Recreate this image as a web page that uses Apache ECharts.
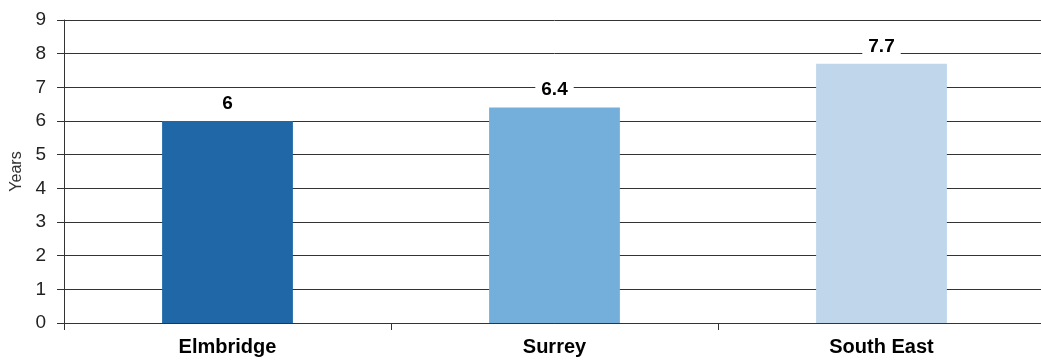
<!DOCTYPE html>
<html><head><meta charset="utf-8">
<script src="https://cdn.jsdelivr.net/npm/echarts@6/dist/echarts.min.js"></script>
<style>html,body{margin:0;padding:0;background:#fff;overflow:hidden}#c{width:1045px;height:360px}</style>
</head><body><div id="c"></div>
<script>
const categories = ['Elmbridge', 'Surrey', 'South East'];
const values = [6, 6.4, 7.7];
const barColors = ['#1f67a6', '#74afdb', '#bfd6eb'];
const yTicks = [0, 1, 2, 3, 4, 5, 6, 7, 8, 9];

const FONT = 'Liberation Sans, Arial, sans-serif';
const chart = echarts.init(document.getElementById('c'), null, {renderer: 'canvas'});
chart.setOption({
  animation: false,
  grid: {left: 64, right: 0, top: 20, bottom: 37, containLabel: false},
  xAxis: {
    type: 'category', data: categories,
    axisLine: {lineStyle: {color: '#333', width: 1}},
    axisTick: {show: true, length: 7, alignWithLabel: false, lineStyle: {color: '#333'}},
    axisLabel: {fontFamily: FONT, fontSize: 20, fontWeight: 'bold', color: '#000', margin: 14}
  },
  yAxis: {
    type: 'value', min: yTicks[0], max: yTicks[yTicks.length - 1], interval: 1,
    name: 'Years', nameLocation: 'middle', nameGap: 37, nameRotate: 90,
    nameTextStyle: {fontFamily: FONT, fontSize: 16, color: '#333'},
    axisLine: {show: true, lineStyle: {color: '#333', width: 1}},
    axisTick: {show: true, length: 7, lineStyle: {color: '#333'}},
    axisLabel: {fontFamily: FONT, fontSize: 19, color: '#222', margin: 18},
    splitLine: {show: true, lineStyle: {color: '#333', width: 1}}
  },
  series: [{
    type: 'bar', barWidth: '40%',
    data: values.map((v, i) => ({value: v, itemStyle: {color: barColors[i]}})),
    label: {
      show: true, position: 'top', distance: 5,
      fontFamily: FONT, fontSize: 19, fontWeight: 'bold', color: '#000',
      backgroundColor: '#fff', padding: [3, 6, 3, 6]
    }
  }]
});
</script></body></html>
